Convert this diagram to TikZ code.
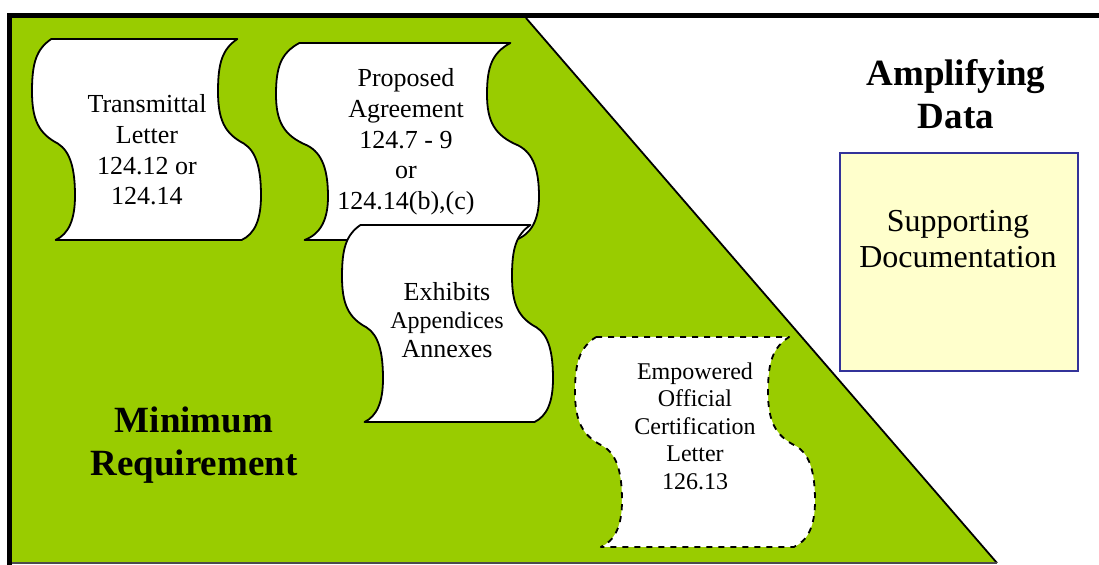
\documentclass[tikz,border=0pt]{standalone}
\usepackage{fontspec}
\setmainfont{Liberation Serif}
\usepackage{tikz}

\definecolor{reqgreen}{RGB}{153,204,0}
\definecolor{suppfill}{RGB}{255,255,204}
\definecolor{suppblue}{RGB}{51,51,153}

% wavy sheet: left x, top y, shift of right side, height, wave depth, extra options
\newcommand{\docscroll}[6]{
\draw [scrollbox,#6] ({#1+0.45*#5},{#2}) -- ({#1+#3+0.45*#5},{#2})
    .. controls ({#1+#3+0.1*#5},{#2+0.05*#4}) and ({#1+#3},{#2+0.12*#4}) .. ({#1+#3},{#2+0.26*#4})
    .. controls ({#1+#3},{#2+0.40*#4}) and ({#1+#3+0.15*#5},{#2+0.47*#4}) .. ({#1+#3+0.6*#5},{#2+0.52*#4})
    .. controls ({#1+#3+0.9*#5},{#2+0.56*#4}) and ({#1+#3+#5},{#2+0.65*#4}) .. ({#1+#3+#5},{#2+0.78*#4})
    .. controls ({#1+#3+#5},{#2+0.9*#4}) and ({#1+#3+0.85*#5},{#2+0.97*#4}) .. ({#1+#3+0.55*#5},{#2+#4})
    -- ({#1+0.55*#5},{#2+#4})
    .. controls ({#1+0.85*#5},{#2+0.97*#4}) and ({#1+#5},{#2+0.9*#4}) .. ({#1+#5},{#2+0.78*#4})
    .. controls ({#1+#5},{#2+0.65*#4}) and ({#1+0.9*#5},{#2+0.56*#4}) .. ({#1+0.6*#5},{#2+0.52*#4})
    .. controls ({#1+0.15*#5},{#2+0.47*#4}) and ({#1},{#2+0.40*#4}) .. ({#1},{#2+0.26*#4})
    .. controls ({#1},{#2+0.12*#4}) and ({#1+0.1*#5},{#2+0.05*#4}) .. ({#1+0.45*#5},{#2}) -- cycle;
}

\begin{document}
\begin{tikzpicture}[x=0.5pt,y=-0.5pt,
    scrollbox/.style={draw=black,fill=white,line width=0.9pt,line join=round},
    doctext/.style={align=center,font=\fontsize{13}{15.35}\selectfont},
    bigtext/.style={align=center,font=\bfseries\fontsize{18.5}{21.5}\selectfont}]

\useasboundingbox (0,0) rectangle (1099,565);

\coordinate (gtl) at (12,18);
\coordinate (gtr) at (526,18);
\coordinate (gbr) at (997,563);
\coordinate (gbl) at (12,563);

\fill [reqgreen] (gtl) -- (gtr) -- (gbr) -- (gbl) -- cycle;
\draw [line width=0.9pt] (gtr) -- (gbr);
\draw [line width=0.8pt, black!70] (gbl) -- (gbr);
\draw [line width=2.5pt] (7,16) -- (1099,16);
\draw [line width=2.5pt] (9.5,14) -- (9.5,565);

\foreach \sx/\sy/\sw/\sh/\sa in {32/39/186/201/43, 276/43/211/197/52, 342/225/170/197/41}
    \docscroll{\sx}{\sy}{\sw}{\sh}{\sa}{};
\docscroll{575}{337}{193}{210}{47}{dashed}

\node (transmittal) [doctext] at (147,150) {Transmittal\\Letter\\124.12 or\\124.14};
\node (proposed) [doctext] at (406,142) {Proposed\\Agreement\\124.7 - 9\\or\\124.14(b),(c)};
\node (exhibits) [doctext, font=\fontsize{13}{14.25}\selectfont] at (447,320)
    {Exhibits\\{\fontsize{12}{14.25}\selectfont Appendices}\\Annexes};
\node (empowered) [doctext, font=\fontsize{12}{13.75}\selectfont] at (695,426)
    {Empowered\\Official\\Certification\\Letter\\126.13};

\node (minimum) [bigtext] at (194,445) {Minimum\\Requirement};
\node (amplifying) [bigtext] at (956,94) {Amplifying\\Data};

\node (suppbox) [draw=suppblue, fill=suppfill, line width=1pt, inner sep=0pt,
    minimum width=119pt, minimum height=109pt] at (959,262) {};
\node (supporting) [doctext, font=\fontsize{16}{18}\selectfont] at (958,239) {Supporting\\Documentation};

\end{tikzpicture}
\end{document}
